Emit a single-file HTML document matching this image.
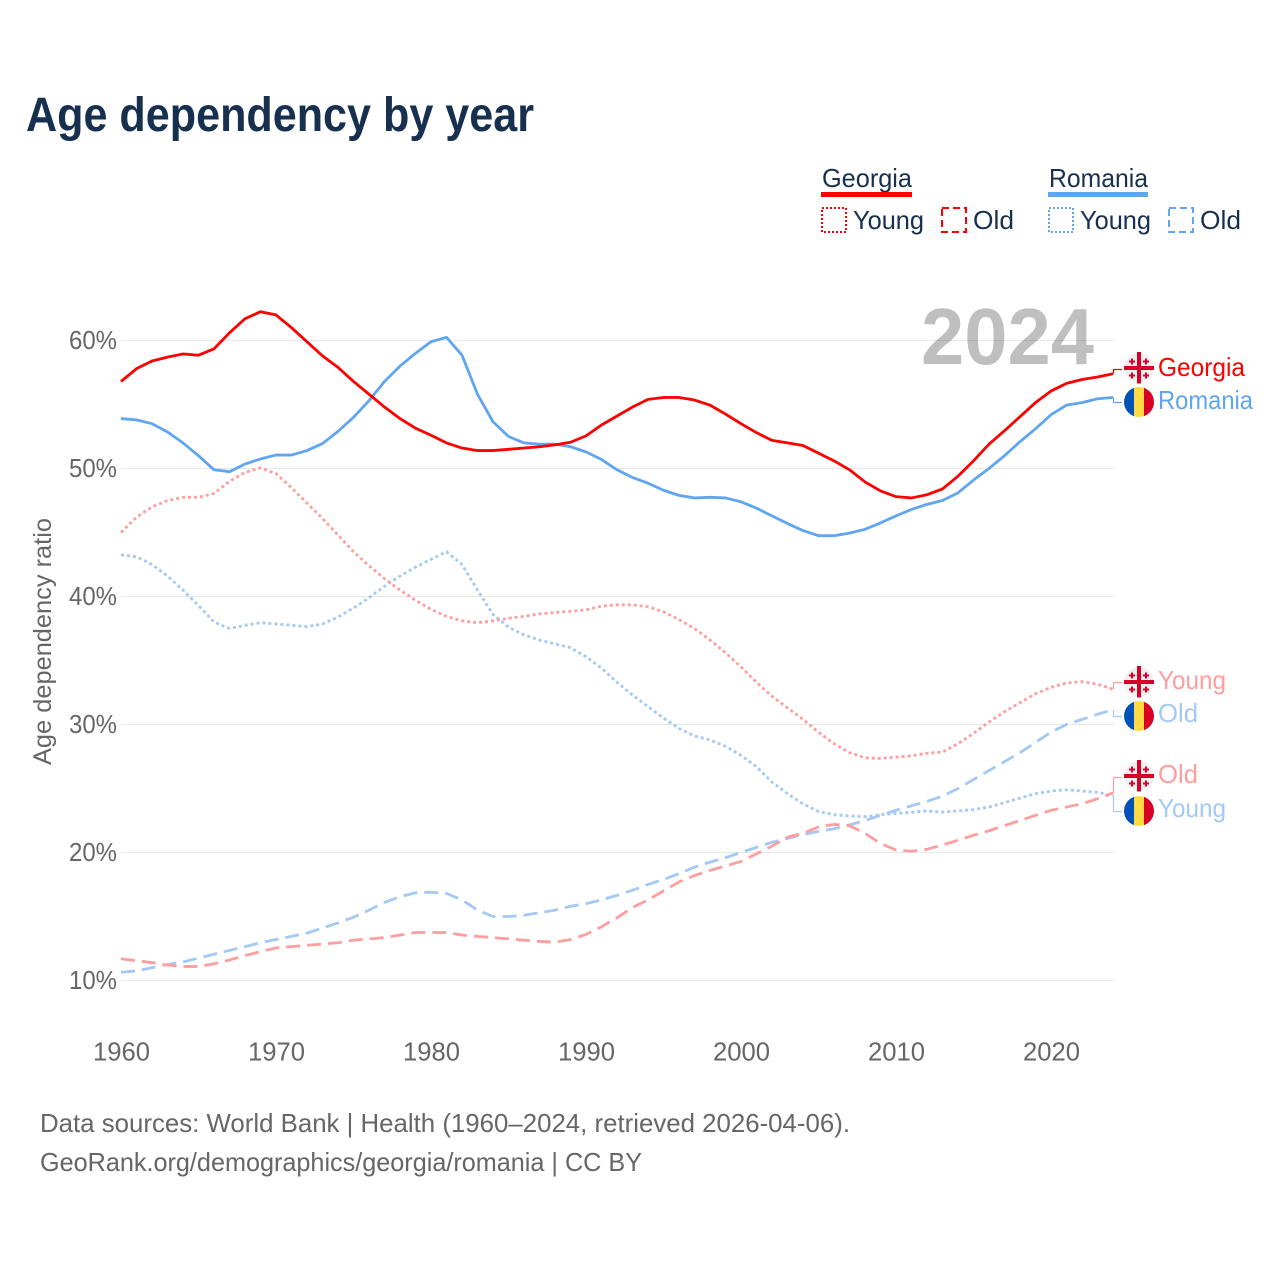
<!DOCTYPE html>
<html lang="en">
<head>
<meta charset="utf-8">
<title>Age dependency by year</title>
<style>
html,body{margin:0;padding:0;background:#fff;width:1280px;height:1280px;overflow:hidden}
svg{display:block}
text{font-family:"Liberation Sans",sans-serif}
.tick{font-size:25.5px;fill:#666}
.src{font-size:26px;fill:#666}
.leg{font-size:26px;fill:#17304f}
.end{font-size:26px}
</style>
</head>
<body>
<svg id="chart" xmlns="http://www.w3.org/2000/svg" width="1280" height="1280" viewBox="0 0 1280 1280">
  <defs>
    <clipPath id="ro-clip"><circle cx="0" cy="0" r="15"/></clipPath>
    <g id="flag-ge">
      <circle r="15" fill="#f0f0f0"/>
      <rect x="-2" y="-16" width="4" height="31.5" fill="#d80027"/>
      <rect x="-15" y="-2" width="30" height="4" fill="#d80027"/>
      <path d="M-8-10.5h2v2h2v2h-2v2h-2v-2h-2v-2h2zM6-10.5h2v2h2v2h-2v2h-2v-2h-2v-2h2zM-8 3.5h2v2h2v2h-2v2h-2v-2h-2v-2h2zM6 3.5h2v2h2v2h-2v2h-2v-2h-2v-2h2z" fill="#d80027" transform="translate(0,1)"/>
    </g>
    <g id="flag-ro" clip-path="url(#ro-clip)">
      <rect x="-15" y="-15" width="10" height="30" fill="#0052b4"/>
      <rect x="-5" y="-15" width="10" height="30" fill="#ffda44"/>
      <rect x="5" y="-15" width="10" height="30" fill="#d80027"/>
    </g>
  </defs>

  <text x="26" y="131" font-size="48" font-weight="700" fill="#17304f" textLength="508" lengthAdjust="spacingAndGlyphs">Age dependency by year</text>

  <g id="grid"></g>
  <text x="921" y="364" font-size="80" font-weight="700" fill="#000" fill-opacity="0.25" textLength="173" lengthAdjust="spacingAndGlyphs">2024</text>
  <g id="series"></g>
  <g id="yticks"></g>
  <g id="xticks"></g>
  <text transform="translate(51,765) rotate(-90)" font-size="25" fill="#666" textLength="247" lengthAdjust="spacingAndGlyphs">Age dependency ratio</text>

  <g>
    <text class="leg" x="822" y="187" textLength="90" lengthAdjust="spacingAndGlyphs">Georgia</text>
    <rect x="821" y="192" width="91" height="5" fill="#ff0000"/>
    <rect x="822" y="208" width="24" height="24" fill="none" stroke="#ff0000" stroke-width="2" stroke-dasharray="2 2"/>
    <text class="leg" x="853" y="229" textLength="71" lengthAdjust="spacingAndGlyphs">Young</text>
    <rect x="942" y="208" width="24" height="24" fill="none" stroke="#ff0000" stroke-width="2" stroke-dasharray="7 4"/>
    <text class="leg" x="973" y="229" textLength="41" lengthAdjust="spacingAndGlyphs">Old</text>

    <text class="leg" x="1049" y="187" textLength="99" lengthAdjust="spacingAndGlyphs">Romania</text>
    <rect x="1048" y="192" width="100" height="5" fill="#60a5f0"/>
    <rect x="1049" y="208" width="24" height="24" fill="none" stroke="#60a5f0" stroke-width="2" stroke-dasharray="2 2"/>
    <text class="leg" x="1080" y="229" textLength="71" lengthAdjust="spacingAndGlyphs">Young</text>
    <rect x="1169" y="208" width="24" height="24" fill="none" stroke="#60a5f0" stroke-width="2" stroke-dasharray="7 4"/>
    <text class="leg" x="1200" y="229" textLength="41" lengthAdjust="spacingAndGlyphs">Old</text>
  </g>

  <g id="connectors"></g>

  <g>
    <use href="#flag-ge" x="1139" y="368"/>
    <text class="end" fill="#ff0000" x="1158" y="376" textLength="87" lengthAdjust="spacingAndGlyphs">Georgia</text>
    <use href="#flag-ro" x="1139" y="402"/>
    <text class="end" fill="#60a5f0" x="1158" y="409" textLength="95" lengthAdjust="spacingAndGlyphs">Romania</text>
    <use href="#flag-ge" x="1139" y="682"/>
    <text class="end" fill="#ff9e9e" x="1158" y="689" textLength="68" lengthAdjust="spacingAndGlyphs">Young</text>
    <use href="#flag-ro" x="1139" y="716"/>
    <text class="end" fill="#a3c9f4" x="1158" y="722" textLength="40" lengthAdjust="spacingAndGlyphs">Old</text>
    <use href="#flag-ge" x="1139" y="776"/>
    <text class="end" fill="#ff9e9e" x="1158" y="783" textLength="40" lengthAdjust="spacingAndGlyphs">Old</text>
    <use href="#flag-ro" x="1139" y="811"/>
    <text class="end" fill="#a3c9f4" x="1158" y="817" textLength="68" lengthAdjust="spacingAndGlyphs">Young</text>
  </g>

  <text class="src" x="40" y="1132" textLength="810" lengthAdjust="spacingAndGlyphs">Data sources: World Bank | Health (1960–2024, retrieved 2026-04-06).</text>
  <text class="src" x="40" y="1171" textLength="602" lengthAdjust="spacingAndGlyphs">GeoRank.org/demographics/georgia/romania | CC BY</text>
</svg>
<script>
var startYear = 1960;
var xTickYears = [1960, 1970, 1980, 1990, 2000, 2010, 2020];
var yTickValues = [10, 20, 30, 40, 50, 60];
var georgiaTotal = [56.8,57.8,58.4,58.7,58.95,58.85,59.35,60.6,61.7,62.25,62.0,61.0,59.9,58.8,57.9,56.8,55.8,54.8,53.9,53.15,52.6,52.0,51.6,51.4,51.4,51.5,51.6,51.7,51.85,52.05,52.55,53.4,54.1,54.8,55.4,55.55,55.55,55.35,54.95,54.25,53.5,52.8,52.2,52.0,51.8,51.2,50.6,49.9,48.95,48.25,47.8,47.7,47.95,48.4,49.4,50.6,51.9,52.95,54.05,55.15,56.05,56.65,56.95,57.15,57.4];
var romaniaTotal = [53.9,53.8,53.5,52.85,52.0,51.0,49.9,49.75,50.35,50.75,51.05,51.05,51.4,51.95,52.9,54.0,55.3,56.8,58.0,59.0,59.9,60.25,58.85,55.8,53.65,52.5,52.0,51.9,51.9,51.7,51.3,50.7,49.9,49.3,48.85,48.3,47.9,47.7,47.75,47.7,47.4,46.9,46.3,45.7,45.15,44.75,44.75,44.95,45.25,45.75,46.3,46.8,47.2,47.5,48.1,49.1,50.0,51.0,52.1,53.1,54.2,54.95,55.15,55.45,55.55];
var georgiaYoung = [45.0,46.2,47.0,47.5,47.75,47.75,48.05,49.0,49.7,50.05,49.6,48.5,47.3,46.1,44.8,43.5,42.4,41.4,40.5,39.7,39.0,38.45,38.1,37.95,38.1,38.3,38.45,38.65,38.75,38.85,38.95,39.25,39.35,39.35,39.2,38.8,38.2,37.5,36.6,35.6,34.5,33.3,32.2,31.3,30.4,29.4,28.5,27.8,27.4,27.35,27.45,27.55,27.75,27.85,28.5,29.3,30.2,31.0,31.7,32.4,32.9,33.25,33.35,33.15,32.75];
var romaniaYoung = [43.25,43.1,42.5,41.6,40.5,39.3,38.0,37.5,37.75,37.95,37.85,37.75,37.65,37.85,38.4,39.1,39.9,40.8,41.6,42.3,42.9,43.5,42.5,40.5,38.6,37.6,37.0,36.6,36.3,36.0,35.3,34.4,33.3,32.3,31.4,30.5,29.7,29.1,28.8,28.3,27.6,26.7,25.5,24.6,23.8,23.2,22.95,22.85,22.8,22.95,23.05,23.15,23.25,23.15,23.25,23.35,23.55,23.9,24.25,24.6,24.8,24.9,24.8,24.7,24.45];
var georgiaOld = [11.7,11.55,11.4,11.2,11.1,11.1,11.3,11.6,11.95,12.25,12.55,12.65,12.75,12.85,12.95,13.15,13.25,13.35,13.55,13.75,13.75,13.75,13.55,13.45,13.35,13.25,13.15,13.05,13.0,13.2,13.6,14.2,14.9,15.7,16.3,17.0,17.7,18.2,18.6,18.95,19.3,19.9,20.5,21.2,21.5,22.0,22.2,22.1,21.5,20.7,20.2,20.1,20.25,20.6,20.95,21.35,21.7,22.1,22.5,22.9,23.3,23.55,23.8,24.2,24.65];
var romaniaOld = [10.65,10.75,11.0,11.25,11.45,11.75,12.05,12.35,12.65,12.95,13.2,13.45,13.7,14.1,14.5,14.95,15.5,16.1,16.55,16.85,16.9,16.8,16.3,15.5,15.0,15.0,15.1,15.3,15.5,15.8,16.0,16.3,16.65,17.05,17.5,17.9,18.35,18.85,19.25,19.6,20.0,20.4,20.8,21.1,21.4,21.65,21.85,22.15,22.5,22.9,23.3,23.65,24.0,24.4,25.0,25.7,26.4,27.1,27.8,28.6,29.4,30.0,30.4,30.8,31.15];

var NS = 'http://www.w3.org/2000/svg';
function xScale(year) { return 121 + (year - 1960) * 15.5; }
function yScale(value) { return 980.5 - (value - 10) * 12.8; }
function make(tag, parentId) {
  var el = document.createElementNS(NS, tag);
  document.getElementById(parentId).appendChild(el);
  return el;
}

yTickValues.forEach(function (v) {
  var line = make('line', 'grid');
  
  
  line.setAttribute('x1', 121);
  line.setAttribute('x2', 1114);
  line.setAttribute('y1', yScale(v));
  line.setAttribute('y2', yScale(v));
  line.setAttribute('stroke', '#e8e8e8');
  line.setAttribute('stroke-width', 1);

  var label = make('text', 'yticks');
  
  
  label.setAttribute('class', 'tick');
  label.setAttribute('x', 69);
  label.setAttribute('y', yScale(v) + 8.5);
  label.setAttribute('textLength', 48);
  label.setAttribute('lengthAdjust', 'spacingAndGlyphs');
  label.textContent = v + '%';
});

xTickYears.forEach(function (y) {
  var label = make('text', 'xticks');
  
  
  label.setAttribute('class', 'tick');
  label.setAttribute('x', xScale(y) - 28);
  label.setAttribute('y', 1060.5);
  label.setAttribute('textLength', 57);
  label.setAttribute('lengthAdjust', 'spacingAndGlyphs');
  label.textContent = y;
});

var seriesDefs = [
  { name: 'romania-old-line', values: romaniaOld, color: '#a3c9f4', dash: '14 7', labelY: 716 },
  { name: 'romania-young-line', values: romaniaYoung, color: '#a3c9f4', dash: '3 3', labelY: 811 },
  { name: 'georgia-old-line', values: georgiaOld, color: '#ff9e9e', dash: '14 7', labelY: 777 },
  { name: 'georgia-young-line', values: georgiaYoung, color: '#ff9e9e', dash: '3 3', labelY: 682 },
  { name: 'romania-total-line', values: romaniaTotal, color: '#60a5f0', dash: '', labelY: 402 },
  { name: 'georgia-total-line', values: georgiaTotal, color: '#ff0000', dash: '', labelY: 369 }
];

seriesDefs.forEach(function (s) {
  var d = s.values.map(function (v, i) {
    return (i ? 'L' : 'M') + xScale(startYear + i).toFixed(2) + ' ' + yScale(v).toFixed(2);
  }).join('');
  var path = make('path', 'series');
  
  
  path.setAttribute('d', d);
  path.setAttribute('fill', 'none');
  path.setAttribute('stroke', s.color);
  path.setAttribute('stroke-width', 2.8);
  path.setAttribute('stroke-linejoin', 'round');
  if (s.dash) path.setAttribute('stroke-dasharray', s.dash);

  var last = s.values[s.values.length - 1];
  var conn = make('path', 'connectors');
  
  
  conn.setAttribute('d', 'M' + (xScale(startYear + s.values.length - 1) + 0.5) + ' ' + yScale(last).toFixed(2) + 'V' + (s.labelY + 0.5) + 'H1122');
  conn.setAttribute('fill', 'none');
  conn.setAttribute('stroke', s.color);
  conn.setAttribute('stroke-width', 1.2);
});
</script>
</body>
</html>
